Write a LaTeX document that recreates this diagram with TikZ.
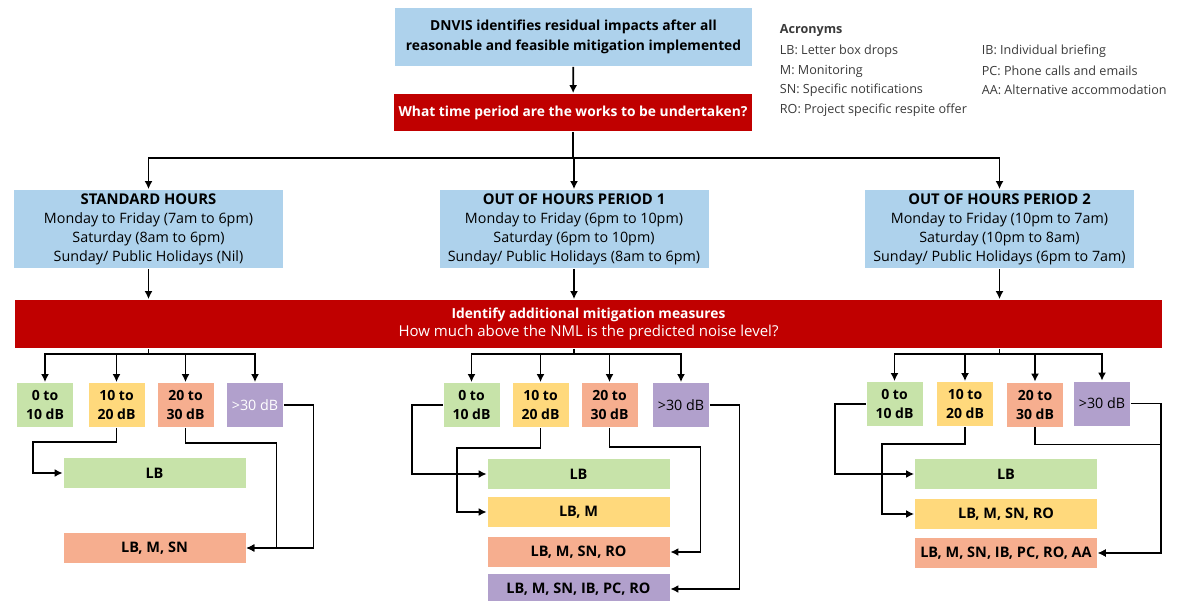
\documentclass[tikz,border=0pt]{standalone}
\usepackage{fontspec}
\setmainfont{Open Sans}
\usetikzlibrary{arrows.meta}
\definecolor{skyblue}{HTML}{AED2EC}
\definecolor{darkred}{HTML}{C00000}
\definecolor{lgreen}{HTML}{C7E3A9}
\definecolor{lyellow}{HTML}{FFD97C}
\definecolor{lsalmon}{HTML}{F6AE8F}
\definecolor{lpurple}{HTML}{B1A0CC}
\definecolor{inkgray}{HTML}{3A3A3A}
\begin{document}
\begin{tikzpicture}[x=1pt, y=-1pt, line width=1.8pt,
  arr/.style={-{Latex[length=8pt,width=8pt]}},
  box/.style={rectangle, draw=none, align=center, inner sep=0pt},
  period/.style={box, fill=skyblue, minimum width=269, minimum height=78, font=\fontsize{14.3}{19}\selectfont},
  level/.style={box, minimum width=56, minimum height=44, font=\fontsize{14}{19}\selectfont\bfseries},
  result/.style={box, minimum width=182, minimum height=30, font=\fontsize{14.5}{15}\selectfont\bfseries},
  acro/.style={anchor=west, inner sep=0pt, text=inkgray, font=\fontsize{12.6}{14}\selectfont}]
\useasboundingbox (0,0) rectangle (1178,600);

\node[box, fill=skyblue, minimum width=357, minimum height=58, font=\fontsize{13.8}{20}\selectfont\bfseries] (top) at (573.5,37) {DNVIS identifies residual impacts after all\\reasonable and feasible mitigation implemented};
\node[box, fill=darkred, text=white, minimum width=358, minimum height=37, font=\fontsize{13.8}{15}\selectfont\bfseries] (q) at (573,112.5) {What time period are the works to be undertaken?};

\node[period] (std) at (148.5,229) {{\fontsize{14.8}{19}\selectfont\bfseries STANDARD HOURS}\\Monday to Friday (7am to 6pm)\\Saturday (8am to 6pm)\\Sunday/ Public Holidays (Nil)};
\node[period] (oh1) at (574,229) {{\fontsize{14.8}{19}\selectfont\bfseries OUT OF HOURS PERIOD 1}\\Monday to Friday (6pm to 10pm)\\Saturday (6pm to 10pm)\\Sunday/ Public Holidays (8am to 6pm)};
\node[period] (oh2) at (999.5,229) {{\fontsize{14.8}{19}\selectfont\bfseries OUT OF HOURS PERIOD 2}\\Monday to Friday (10pm to 7am)\\Saturday (10pm to 8am)\\Sunday/ Public Holidays (6pm to 7am)};

\node[box, fill=darkred, text=white, minimum width=1147, minimum height=48, font=\fontsize{15}{18}\selectfont] (nml) at (588.5,324) {{\fontsize{13.8}{18}\selectfont\bfseries Identify additional mitigation measures}\\How much above the NML is the predicted noise level?};

\node[level, fill=lgreen] (a1) at (45,405) {0 to\\10 dB};
\node[level, fill=lyellow] (a2) at (116.5,405) {10 to\\20 dB};
\node[level, fill=lsalmon] (a3) at (185.5,405) {20 to\\30 dB};
\node[level, fill=lpurple, text=white, font=\fontsize{14.3}{19}\selectfont] (a4) at (255,405) {>30 dB};
\node[level, fill=lgreen] (b1) at (471.5,405) {0 to\\10 dB};
\node[level, fill=lyellow] (b2) at (540.5,405) {10 to\\20 dB};
\node[level, fill=lsalmon] (b3) at (609.5,405) {20 to\\30 dB};
\node[level, fill=lpurple, font=\fontsize{14.3}{19}\selectfont] (b4) at (681,405) {>30 dB};
\node[level, fill=lgreen] (c1) at (894.5,404) {0 to\\10 dB};
\node[level, fill=lyellow] (c2) at (965,404) {10 to\\20 dB};
\node[level, fill=lsalmon] (c3) at (1035,404.5) {20 to\\30 dB};
\node[level, fill=lpurple, font=\fontsize{14.3}{19}\selectfont] (c4) at (1102,403.5) {>30 dB};

\node[result, fill=lgreen] (ar1) at (154.5,473) {LB};
\node[result, fill=lsalmon] (ar2) at (154.5,548) {LB, M, SN};
\node[result, fill=lgreen] (br1) at (578.5,474) {LB};
\node[result, fill=lyellow] (br2) at (578.5,512) {LB, M};
\node[result, fill=lsalmon] (br3) at (578.5,552) {LB, M, SN, RO};
\node[result, fill=lpurple] (br4) at (578.5,589) {LB, M, SN, IB, PC, RO};
\node[result, fill=lgreen] (cr1) at (1006,474) {LB};
\node[result, fill=lyellow] (cr2) at (1006,514) {LB, M, SN, RO};
\node[result, fill=lsalmon] (cr3) at (1006,553) {LB, M, SN, IB, PC, RO, AA};

\node[acro, font=\fontsize{12.6}{14}\selectfont\bfseries] (acr) at (779,30) {Acronyms};
\node[acro] (lb) at (779,51) {LB: Letter box drops};
\node[acro] (m) at (779,71) {M: Monitoring};
\node[acro] (sn) at (779,90) {SN: Specific notifications};
\node[acro] (ro) at (779,110) {RO: Project specific respite offer};
\node[acro] (ib) at (981,51) {IB: Individual briefing};
\node[acro] (pc) at (981,71) {PC: Phone calls and emails};
\node[acro] (aa) at (981,90) {AA: Alternative accommodation};

\draw[arr] (top) -- (q);
\coordinate (hub) at (573,158);
\draw (q) -- (hub);
\foreach \to in {std, oh1, oh2}
  \draw[arr] (hub) -| (\to.north);
\foreach \from in {std, oh1, oh2}
  \draw[arr] (\from.south) -- (\from.south |- nml.north);

\coordinate (sa) at (148.5,354);
\coordinate (sb) at (574,354);
\coordinate (sc) at (999.5,354);
\foreach \from/\to in {sa/a1, sa/a2, sa/a3, sa/a4, sb/b1, sb/b2, sb/b3, sb/b4, sc/c1, sc/c2, sc/c3, sc/c4}
  \draw[arr] (\from) -| (\to.north);
\foreach \to in {sa, sb, sc}
  \draw (\to |- nml.south) -- (\to);

\draw[arr] (a2.south) -- ++(0,14) -| ([xshift=-30pt]ar1.west) -- (ar1.west);
\draw[arr] (a3.south) -- ++(0,15) -| ([xshift=30pt]ar2.east) -- (ar2.east);
\draw[arr] (a4.east) -| ([xshift=67pt]ar2.east) -- (ar2.east);

\draw[arr] (b1.west) -| ([xshift=-75pt]br1.west) -- (br1.west);
\draw[arr] (b2.south) -- ++(0,20) -| ([xshift=-30pt]br2.west) -- (br2.west);
\draw[arr] (b3.south) -- ++(0,19) -| ([xshift=30pt]br3.east) -- (br3.east);
\draw[arr] (b4.east) -| ([xshift=69pt]br4.east) -- (br4.east);

\draw[arr] (c1.west) -| ([xshift=-79pt]cr1.west) -- (cr1.west);
\draw[arr] (c2.south) -- ++(0,17) -| ([xshift=-32pt]cr2.west) -- (cr2.west);
\draw[arr] (c3.south) -- ++(0,17) -| ([xshift=63pt]cr3.east) -- (cr3.east);
\draw[arr] (c4.east) -| ([xshift=63pt]cr3.east) -- (cr3.east);
\end{tikzpicture}
\end{document}
